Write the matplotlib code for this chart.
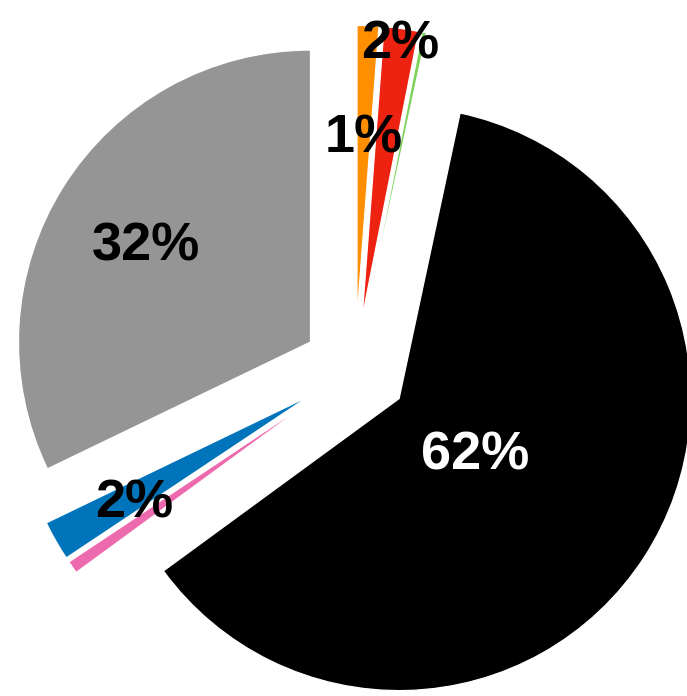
import numpy as np
import matplotlib
matplotlib.use("Agg")
import matplotlib.pyplot as plt

# slice shares (percent), clockwise from 12 o'clock
names = ["orange", "red", "green", "black", "pink", "blue", "gray"]
shares = [1.2, 1.9, 0.25, 61.6, 0.7, 2.2, 32.15]
colors = ["#FF8F00", "#EE2211", "#7CD35A", "#000000", "#EE6AAE", "#0074BA", "#959595"]
show_label = [True, True, False, True, False, True, True]
label_colors = ["black", "black", "black", "white", "black", "black", "black"]
# distance of each label from its wedge tip, in radii
label_dist = [0.64, 0.97, 0.5, 0.31, 0.5, 0.69, 0.665]

plt.rcParams["font.family"] = ["Liberation Sans", "DejaVu Sans"]

fig = plt.figure(figsize=(6.87, 6.96), dpi=100)
ax = fig.add_axes([0, 0, 1, 1])

expl = 0.18
wedges, _ = ax.pie(shares, colors=colors, startangle=90, counterclock=False,
                   explode=[expl] * len(shares), radius=1.0,
                   wedgeprops=dict(edgecolor="white", linewidth=0.9))

total = sum(shares)
for w, v, show, c, d in zip(wedges, shares, show_label, label_colors, label_dist):
    if not show:
        continue
    mid = np.deg2rad((w.theta1 + w.theta2) / 2)
    cx, cy = w.center
    ax.text(cx + d * np.cos(mid), cy + d * np.sin(mid) - 0.025, f"{v / total * 100:.0f}%",
            ha="center", va="center", fontsize=39, fontweight="bold", color=c)

# pixel scale: 292 px per radius, centre at (355, 370) from top-left
ax.set_aspect("auto")
ax.set_xlim(-355 / 292, (687 - 355) / 292)
ax.set_ylim(-(696 - 370) / 292, 370 / 292)
ax.axis("off")

fig.savefig("out.png", dpi=100)
